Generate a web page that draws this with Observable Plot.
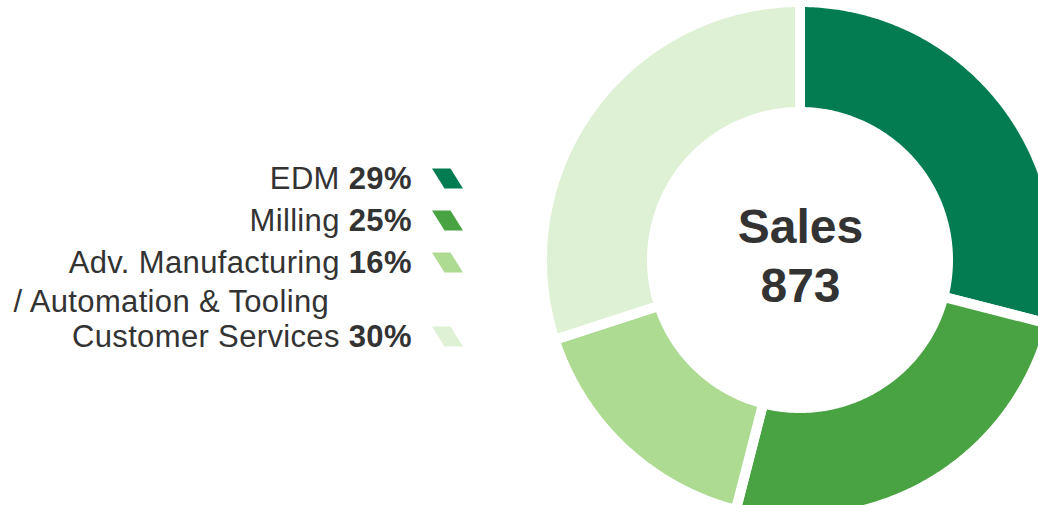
<!DOCTYPE html>
<html><head><meta charset="utf-8">
<script src="https://cdn.jsdelivr.net/npm/d3@7"></script>
<script src="https://cdn.jsdelivr.net/npm/@observablehq/plot@0.6"></script>
<style>html,body{margin:0;padding:0;background:#fff;overflow:hidden}</style>
</head><body><div id="chart"></div>
<script>
// ---- data ----
const categories = ["EDM", "Milling", "Adv. Manufacturing", "Customer Services"];
const shares = [29, 25, 16, 30];
const colors = ["#037c52", "#4aa343", "#addb92", "#dff1d5"];
const centerTitle = "Sales";
const centerValue = 873;
const wrapLine = "/ Automation & Tooling";

// ---- layout ----
const W = 1038, H = 505;
const cx = 800, cy = 260, rOuter = 253, rInner = 153, gap = 10;
const font = '"Liberation Sans", Arial, Helvetica, sans-serif';
const textColor = "#333333";
const legendFs = 31;
const letterSp = 0.35;
const legendRight = 411;
const legendRowY = [179, 221, 263, 337];
const wrapY = 302, wrapX = 13;
const swatchX = 447;

const total = d3.sum(shares);
let acc = 0;
const arcPts = [];
categories.forEach((name, i) => {
  const a0 = acc / total * 2 * Math.PI;
  acc += shares[i];
  const a1 = acc / total * 2 * Math.PI;
  const n = Math.max(2, Math.ceil((a1 - a0) / (Math.PI / 360)));
  for (let k = 0; k <= n; k++) arcPts.push({name, a: a0 + (a1 - a0) * k / n});
});
const ri = rInner - gap / 2, ro = rOuter + gap / 2;

const legendData = categories.map((name, i) => ({name, pct: shares[i] + "%", y: legendRowY[i]}));
const ctx = document.createElement("canvas").getContext("2d");
ctx.font = `${legendFs}px ${font}`;
const spaceW = ctx.measureText(" ").width + letterSp;
ctx.font = `bold ${legendFs}px ${font}`;
legendData.forEach(d => { d.w = ctx.measureText(d.pct).width + d.pct.length * letterSp; });

const parallelogram = {
  draw(c, size) {
    const s = Math.sqrt(size / Math.PI) / 10;
    c.moveTo(-15.5 * s, -10 * s);
    c.lineTo(3 * s, -10 * s);
    c.lineTo(15.5 * s, 10 * s);
    c.lineTo(-3 * s, 10 * s);
    c.closePath();
  }
};

const chart = Plot.plot({
  width: W, height: H, margin: 0,
  x: {domain: [0, W], range: [0, W], axis: null},
  y: {domain: [0, H], range: [0, H], axis: null},
  color: {domain: categories, range: colors},
  style: {fontFamily: font, background: "#fff"},
  marks: [
    Plot.area(arcPts, {
      x1: d => cx + ri * Math.sin(d.a), y1: d => cy - ri * Math.cos(d.a),
      x2: d => cx + ro * Math.sin(d.a), y2: d => cy - ro * Math.cos(d.a),
      z: "name", fill: "name", stroke: "#fff", strokeWidth: gap
    }),
    Plot.text([centerTitle + "\n" + centerValue], {
      x: () => cx, y: () => cy - 7, text: d => d,
      fontSize: 48, fontWeight: "bold", fill: textColor, lineHeight: 1.22,
      textAnchor: "middle", lineAnchor: "middle"
    }),
    Plot.text(legendData, {
      x: () => legendRight + letterSp, y: "y", text: "pct", fontSize: legendFs, fontWeight: "bold",
      fill: textColor, textAnchor: "end", lineAnchor: "middle"
    }),
    Plot.text(legendData, {
      x: d => legendRight - d.w - spaceW + letterSp, y: "y", text: "name", fontSize: legendFs,
      fill: textColor, textAnchor: "end", lineAnchor: "middle"
    }),
    Plot.text([wrapLine], {
      x: () => wrapX, y: () => wrapY, text: d => d, fontSize: legendFs,
      fill: textColor, textAnchor: "start", lineAnchor: "middle"
    }),
    Plot.dot(legendData, {
      x: () => swatchX, y: d => d.y - 1, r: 10, symbol: parallelogram, fill: "name", stroke: "none"
    })
  ]
});
chart.querySelectorAll(`g[font-size="${legendFs}"]`).forEach(g => g.style.letterSpacing = letterSp + "px");
document.getElementById("chart").appendChild(chart);
</script></body></html>
